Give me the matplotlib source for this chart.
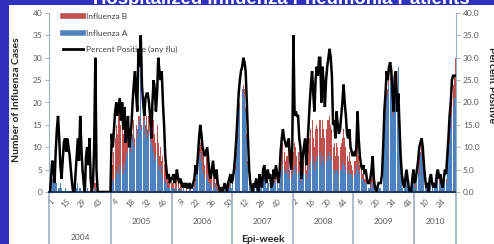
import numpy as np
import matplotlib.pyplot as plt
from matplotlib.patches import Rectangle
from matplotlib.lines import Line2D
import matplotlib.transforms as mtransforms

plt.rcParams['font.family'] = ['Lato', 'DejaVu Sans']

# ---- weekly data, one list per epi-year ----
years = ["2004", "2005", "2006", "2007", "2008", "2009", "2010"]

pct_pos = [
    # 2004 (53 weeks)
    [0, 3, 7, 6, 2, 9, 14, 17, 12, 6, 3, 7, 11, 12, 9, 12, 10, 8, 5, 2,
     0, 0, 4, 8, 12, 7, 17, 10, 5, 2, 0, 8, 10, 6, 12, 3, 0, 2, 10, 30,
     5, 0, 0, 0, 0, 0, 0, 0, 0, 0, 0, 0, 0],
    # 2005
    [13, 10, 14, 18, 20, 17, 19, 21, 16, 20, 14, 19, 11, 13, 17, 10, 12, 15, 20, 24,
     27, 22, 18, 32, 28, 35, 24, 20, 17, 21, 22, 22, 20, 17, 12, 20, 25, 23, 18, 22,
     30, 27, 25, 27, 20, 15, 8, 5, 3, 4, 2, 3],
    # 2006
    [3, 4, 2, 3, 5, 3, 2, 3, 2, 1, 2, 1, 2, 1, 1, 2, 1, 1, 2, 3,
     6, 4, 8, 12, 15, 13, 10, 9, 8, 9, 10, 7, 4, 3, 5, 7, 4, 3, 5, 2,
     1, 0, 1, 0, 1, 2, 1, 0, 2, 3, 4, 2],
    # 2007
    [3, 5, 8, 12, 17, 22, 25, 27, 28, 30, 29, 27, 20, 12, 5, 2, 1, 0, 2, 1,
     3, 1, 0, 4, 2, 1, 5, 6, 3, 2, 5, 3, 4, 1, 2, 5, 3, 6, 4, 2,
     4, 9, 12, 14, 12, 11, 10, 11, 12, 8, 5, 10],
    # 2008
    [35, 17, 18, 17, 17, 12, 10, 3, 8, 10, 12, 6, 10, 15, 20, 24, 27, 22, 18, 25,
     28, 26, 30, 30, 20, 28, 24, 19, 25, 28, 30, 32, 30, 26, 15, 16, 12, 18, 15, 13,
     14, 17, 20, 24, 20, 17, 13, 12, 14, 10, 9, 8],
    # 2009
    [9, 8, 10, 18, 12, 8, 6, 5, 6, 4, 5, 3, 2, 2, 3, 5, 8, 3, 1, 0,
     1, 2, 2, 2, 4, 10, 18, 22, 27, 25, 28, 29, 27, 22, 18, 26, 27, 18, 22, 15,
     8, 4, 2, 1, 3, 5, 3, 1, 0, 0, 3, 5],
    # 2010 (36 weeks)
    [2, 3, 5, 7, 10, 11, 12, 10, 6, 3, 1, 2, 0, 3, 4, 2, 1, 2, 1, 4,
     5, 3, 4, 2, 1, 3, 5, 4, 8, 12, 17, 20, 25, 26, 26, 26],
]

flu_a = [
    [1, 2, 3, 3, 2, 3, 2, 1, 1, 2, 1, 0, 0, 1, 0, 0, 0, 0, 0, 0,
     0, 0, 1, 1, 2, 1, 1, 0, 0, 0, 0, 0, 1, 0, 0, 0, 0, 0, 0, 1,
     0, 0, 0, 0, 0, 0, 0, 0, 0, 0, 0, 0, 0],
    [1, 2, 3, 3, 4, 5, 4, 6, 5, 4, 6, 7, 5, 8, 9, 10, 9, 12, 11, 13,
     10, 14, 12, 16, 15, 33, 14, 15, 16, 13, 14, 12, 13, 11, 12, 9, 10, 8, 7, 8,
     6, 5, 6, 4, 3, 3, 2, 2, 1, 1, 1, 1],
    [1, 1, 0, 1, 1, 1, 0, 1, 0, 0, 1, 0, 0, 0, 0, 1, 0, 0, 1, 1,
     2, 4, 6, 8, 9, 7, 5, 4, 3, 4, 3, 2, 2, 1, 2, 1, 2, 1, 1, 0,
     0, 0, 0, 0, 0, 1, 0, 0, 1, 1, 2, 1],
    [2, 3, 5, 8, 12, 16, 19, 21, 22, 23, 21, 18, 12, 6, 3, 1, 1, 0, 1, 1,
     1, 0, 0, 2, 1, 1, 3, 4, 2, 1, 3, 2, 2, 1, 1, 3, 2, 3, 2, 1,
     2, 4, 5, 6, 5, 4, 4, 5, 5, 3, 3, 4],
    [5, 6, 5, 4, 5, 4, 3, 2, 3, 4, 4, 3, 4, 5, 6, 7, 8, 6, 5, 7,
     8, 7, 8, 9, 6, 8, 7, 6, 7, 8, 8, 9, 8, 7, 5, 5, 4, 5, 5, 4,
     5, 5, 6, 7, 6, 5, 4, 4, 5, 4, 4, 3],
    [4, 4, 5, 6, 5, 4, 3, 3, 3, 2, 2, 2, 1, 1, 1, 2, 2, 1, 0, 0,
     0, 1, 1, 1, 3, 8, 14, 18, 21, 22, 24, 25, 24, 20, 17, 21, 24, 20, 28, 13,
     7, 3, 1, 1, 2, 3, 2, 1, 0, 0, 1, 3],
    [1, 2, 3, 4, 6, 8, 9, 7, 4, 2, 1, 1, 0, 1, 2, 1, 0, 1, 1, 2,
     3, 2, 2, 1, 1, 2, 3, 2, 5, 8, 11, 14, 17, 19, 21, 21],
]

flu_b = [
    [0, 0, 0, 1, 0, 0, 0, 0, 0, 0, 0, 0, 0, 0, 0, 0, 0, 0, 0, 0,
     0, 0, 0, 0, 0, 0, 0, 0, 0, 0, 0, 0, 0, 0, 0, 0, 0, 1, 2, 1,
     0, 0, 0, 0, 0, 0, 0, 0, 0, 0, 0, 0, 0],
    [1, 4, 6, 9, 11, 8, 13, 15, 10, 12, 7, 9, 6, 5, 4, 3, 4, 3, 2, 3,
     2, 1, 2, 1, 2, 2, 1, 2, 1, 2, 3, 2, 4, 3, 5, 4, 6, 5, 4, 7,
     5, 3, 4, 3, 5, 3, 4, 2, 3, 2, 1, 1],
    [1, 2, 1, 1, 2, 1, 1, 1, 1, 0, 1, 0, 1, 0, 0, 0, 1, 0, 0, 1,
     1, 1, 2, 2, 2, 3, 4, 5, 3, 4, 6, 3, 2, 2, 4, 5, 2, 1, 3, 1,
     0, 0, 1, 0, 0, 0, 0, 0, 0, 1, 0, 0],
    [0, 0, 1, 1, 1, 2, 1, 2, 1, 1, 2, 1, 1, 1, 0, 0, 0, 0, 0, 0,
     1, 0, 0, 1, 0, 0, 1, 1, 1, 0, 1, 0, 1, 0, 0, 1, 1, 2, 1, 0,
     1, 3, 4, 5, 4, 3, 4, 3, 5, 2, 2, 4],
    [4, 5, 5, 4, 4, 3, 3, 1, 2, 3, 4, 2, 3, 5, 6, 7, 8, 6, 5, 7,
     7, 7, 8, 7, 6, 8, 7, 6, 7, 8, 8, 8, 7, 7, 5, 6, 4, 6, 5, 4,
     5, 6, 6, 7, 6, 5, 4, 3, 4, 3, 2, 2],
    [3, 3, 3, 5, 3, 2, 2, 1, 2, 1, 1, 1, 0, 0, 1, 1, 2, 1, 0, 0,
     0, 0, 0, 0, 0, 1, 1, 1, 1, 1, 1, 1, 1, 1, 1, 1, 1, 1, 0, 1,
     1, 1, 0, 0, 1, 1, 1, 0, 0, 0, 1, 1],
    [1, 1, 1, 2, 2, 1, 2, 2, 1, 1, 0, 0, 0, 1, 1, 0, 0, 1, 0, 1,
     1, 1, 1, 0, 0, 1, 1, 1, 2, 2, 3, 4, 4, 5, 5, 9],
]

W, H = 494, 244
fig = plt.figure(figsize=(W / 100, H / 100), dpi=100, facecolor="#2f2fc0")
fig.patches.append(Rectangle((9 / W, 0), 1, (H - 5) / H, transform=fig.transFigure,
                             facecolor="white", edgecolor="none", zorder=-10))
fig.text(281 / W, 1 - 4 / H, "Hospitalized Influenza Pneumonia Patients", color="white",
         fontsize=13.4, weight="bold", family="Liberation Sans", ha="center", va="baseline",
         zorder=10)

pct = np.concatenate(pct_pos)
a = np.concatenate(flu_a)
b = np.concatenate(flu_b)
n = len(pct)
x = np.arange(n)
lens = [len(p) for p in pct_pos]
starts = np.concatenate([[0], np.cumsum(lens)])

ax_l, ax_r, ax_b, ax_t = 49.3, 456, 192, 13
ax = fig.add_axes([ax_l / W, 1 - ax_b / H, (ax_r - ax_l) / W, (ax_b - ax_t) / H])
ax.bar(x, a, width=0.85, color="#4f81bd", linewidth=0)
ax.bar(x, b, width=0.85, bottom=a, color="#c0504d", linewidth=0)
ax.set_xlim(-0.5, n - 0.5)
ax.set_ylim(0, 40)
ax.set_yticks(range(0, 41, 5))
ax.tick_params(axis="y", labelsize=6, colors="#595959", length=3, width=0.6, pad=2)
ax.tick_params(axis="y", color="#a6a6a6")

# week tick labels every 14 categories
tick_idx = np.arange(0, n, 14)
week_no = []
for i in tick_idx:
    k = np.searchsorted(starts, i, side="right") - 1
    week_no.append(str(i - starts[k] + 1))
ax.set_xticks(tick_idx)
ax.set_xticklabels(week_no, rotation=45, ha="right", rotation_mode="anchor",
                   fontsize=5.5, color="#595959")
ax.tick_params(axis="x", length=0, pad=4)

ax.spines["top"].set_visible(False)
ax.spines["bottom"].set_color("#1f3a60")
ax.spines["bottom"].set_linewidth(1.5)
ax.spines["left"].set_color("#a0aec4")
ax.spines["right"].set_visible(False)

ax2 = ax.twinx()
ax2.plot(x, pct, color="black", lw=1.8, solid_joinstyle="miter")
ax2.set_ylim(0, 40)
ax2.set_yticks(range(0, 41, 5))
ax2.set_yticklabels([f"{v:.1f}" for v in range(0, 41, 5)])
ax2.tick_params(axis="y", labelsize=6, colors="#595959", length=3, width=0.6, pad=2)
ax2.tick_params(axis="y", color="#a6a6a6")
for s in ["top", "left", "bottom"]:
    ax2.spines[s].set_visible(False)
ax2.spines["right"].set_color("#a0aec4")

# year separators and labels under the axis
trans = mtransforms.blended_transform_factory(ax.transData, ax.transAxes)
low = -(H - ax_b) / (ax_b - ax_t)
for s in starts:
    ax.add_line(Line2D([s - 0.5, s - 0.5], [low, 0], transform=trans, color="#a0aec4",
                       lw=1.2, clip_on=False))
for k, yr in enumerate(years):
    c = (starts[k] + starts[k + 1] - 1) / 2
    yy = 237 if k == 0 else 221
    ax.text(c, -(yy - ax_b) / (ax_b - ax_t), yr, transform=trans, ha="center", va="center",
            fontsize=6, color="#595959")

fig.text(263 / W, 1 - 240 / H, "Epi-week", ha="center", va="center", fontsize=7.5,
         weight="bold", color="#262626")
fig.text(17 / W, 1 - 100 / H, "Number of Influenza Cases", rotation=90, ha="center",
         va="center", fontsize=7.5, weight="bold", color="#262626")
fig.text(491 / W, 1 - 85 / H, "Percent Positive", rotation=270, ha="center",
         va="center", fontsize=7.5, weight="bold", color="#262626")

handles = [Line2D([], [], color="#c0504d", lw=4),
           Line2D([], [], color="#4f81bd", lw=4),
           Line2D([], [], color="black", lw=2)]
ax.legend(handles, ["Influenza B", "Influenza A", "Percent Positive (any flu)"],
          loc="upper left", bbox_to_anchor=(0.016, 1.04), frameon=False, fontsize=6,
          handlelength=2.4, handletextpad=0.35, labelspacing=1.1, labelcolor="#404040")

fig.savefig("out.png", dpi=100, facecolor=fig.get_facecolor())
